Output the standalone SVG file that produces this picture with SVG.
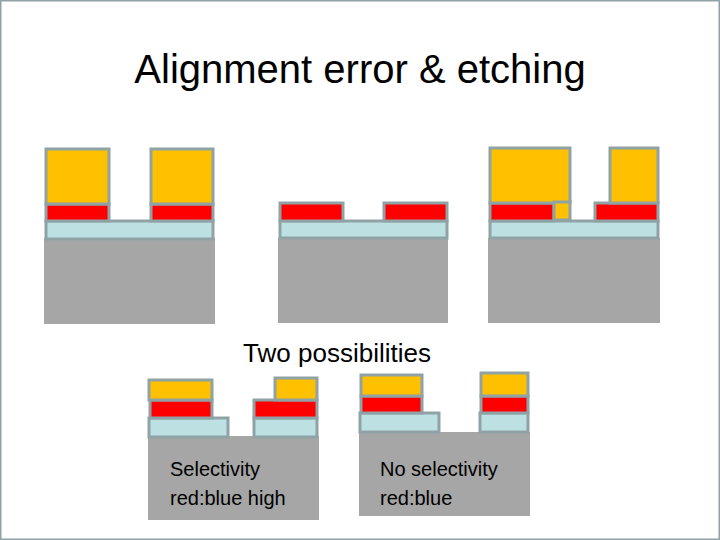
<svg xmlns="http://www.w3.org/2000/svg" width="720" height="540" viewBox="0 0 720 540">
<style>
rect{stroke:#8fa3a6;stroke-width:3}
.g{fill:#a6a6a6;stroke:none}
.b{fill:#bde0e3}
.r{fill:#ff0000}
.y{fill:#ffc000}
text{font-family:"Liberation Sans",Arial,sans-serif;fill:#000}
</style>
<rect width="720" height="540" fill="#fff" stroke="none"/>
<text x="360" y="83" font-size="40" text-anchor="middle">Alignment error &amp; etching</text>
<g id="panel1">
<rect class="g" x="44" y="238" width="171" height="86"/>
<rect class="b" x="46" y="221" width="167" height="18"/>
<rect class="r" x="46" y="204" width="63" height="17"/>
<rect class="r" x="151" y="204" width="62" height="17"/>
<rect class="y" x="46" y="149" width="63" height="55"/>
<rect class="y" x="151" y="149" width="62" height="55"/>
</g>
<g id="panel2">
<rect class="g" x="278" y="238" width="170" height="85"/>
<rect class="b" x="280" y="221" width="167" height="17"/>
<rect class="r" x="280" y="203" width="63" height="18"/>
<rect class="r" x="384" y="203" width="63" height="18"/>
</g>
<g id="panel3">
<rect class="g" x="488" y="238" width="172" height="85"/>
<rect class="b" x="490" y="221" width="168" height="17"/>
<rect class="r" x="490" y="203" width="64" height="18"/>
<rect class="r" x="595" y="203" width="63" height="18"/>
<rect class="y" x="490" y="148" width="80" height="55"/>
<rect class="y" x="554" y="202" width="16" height="18" stroke="none"/>
<rect class="y" x="610" y="148" width="48" height="55"/>
</g>
<text x="337" y="362" font-size="26" text-anchor="middle">Two possibilities</text>
<g id="panel4">
<rect class="g" x="148" y="436" width="171" height="84"/>
<rect class="b" x="149" y="418" width="79" height="19"/>
<rect class="b" x="254" y="418" width="63" height="19"/>
<rect class="r" x="150" y="400" width="62" height="18"/>
<rect class="r" x="254" y="400" width="63" height="18"/>
<rect class="y" x="149" y="380" width="63" height="20"/>
<rect class="y" x="275" y="378" width="42" height="22"/>
<text x="170" y="476" font-size="20">Selectivity</text>
<text x="170" y="505" font-size="20">red:blue high</text>
</g>
<g id="panel5">
<rect class="g" x="359" y="432" width="171" height="84"/>
<rect class="b" x="360" y="413" width="79" height="19"/>
<rect class="b" x="480" y="413" width="48" height="19"/>
<rect class="r" x="361" y="396" width="61" height="17"/>
<rect class="r" x="481" y="396" width="47" height="17"/>
<rect class="y" x="361" y="375" width="61" height="21"/>
<rect class="y" x="481" y="373" width="47" height="23"/>
<text x="380" y="476" font-size="20">No selectivity</text>
<text x="380" y="505" font-size="20">red:blue</text>
</g>
<g id="connectors"/>
</svg>
